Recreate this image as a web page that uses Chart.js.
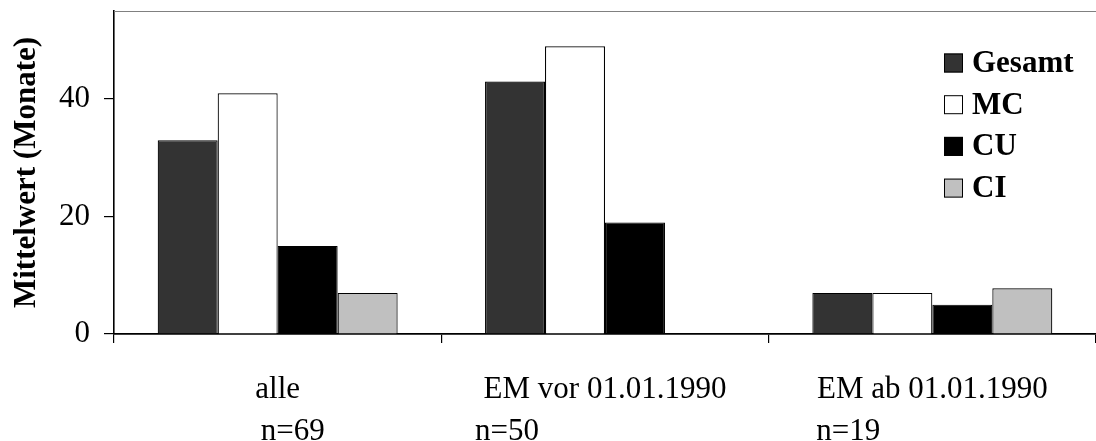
<!DOCTYPE html>
<html>
<head>
<meta charset="utf-8">
<script src="https://cdn.jsdelivr.net/npm/chart.js@4/dist/chart.umd.min.js"></script>
<style>
  html, body { margin: 0; padding: 0; background: #fff; overflow: hidden; }
  #wrap { width: 1096px; height: 441px; position: relative; }
</style>
</head>
<body>
<div id="wrap"><canvas id="c" width="1096" height="441"></canvas></div>
<script>
const categories = ["alle", "EM vor 01.01.1990", "EM ab 01.01.1990"];
const sampleSizes = ["n=69", "n=50", "n=19"];
const seriesNames = ["Gesamt", "MC", "CU", "CI"];
const gesamt = [33, 43, 7];
const mc = [41, 49, 7];
const cu = [15, 19, 5];
const ci = [7, 0, 7.8];
const yTicks = [0, 20, 40];
const yMax = 55;

const colors = ["#333333", "#ffffff", "#000000", "#c0c0c0"];
const seriesValues = [gesamt, mc, cu, ci];
const nOffsets = [15, -98, -84];
const serif = "'Liberation Serif', 'Times New Roman', serif";

const extras = {
  id: 'extras',
  afterDraw(chart) {
    const ctx = chart.ctx;
    const ca = chart.chartArea;
    const xs = chart.scales.x;
    ctx.save();
    // top frame line
    ctx.strokeStyle = '#808080';
    ctx.lineWidth = 1;
    ctx.beginPath();
    ctx.moveTo(ca.left, ca.top + 0.5);
    ctx.lineTo(ca.right, ca.top + 0.5);
    ctx.stroke();
    // sample size labels
    ctx.fillStyle = '#000';
    ctx.font = "31px " + serif;
    ctx.textAlign = 'center';
    ctx.textBaseline = 'middle';
    sampleSizes.forEach((s, i) => {
      ctx.fillText(s, xs.getPixelForValue(i) + nOffsets[i], xs.top + 98);
    });
    // legend
    ctx.font = "bold 31px " + serif;
    ctx.textAlign = 'left';
    chart.data.datasets.forEach((ds, i) => {
      const cy = ca.top + 52 + i * 41.7;
      const bx = ca.left + 830;
      ctx.fillStyle = ds.backgroundColor;
      ctx.fillRect(bx, cy - 9.5, 19, 19);
      ctx.strokeStyle = '#000';
      ctx.lineWidth = 1;
      ctx.strokeRect(bx + 0.5, cy - 9, 18, 18);
      ctx.fillStyle = '#000';
      ctx.fillText(ds.label, bx + 28, cy + 1);
    });
    ctx.restore();
  }
};

new Chart(document.getElementById('c'), {
  type: 'bar',
  data: {
    labels: categories,
    datasets: seriesNames.map((name, i) => ({
      label: name,
      data: seriesValues[i],
      backgroundColor: colors[i],
      borderColor: '#000',
      borderWidth: 1.2,
      borderSkipped: 'bottom'
    }))
  },
  options: {
    responsive: false,
    animation: false,
    layout: { padding: { top: 11, right: 0, left: 0, bottom: 0 } },
    plugins: { legend: { display: false }, tooltip: { enabled: false } },
    datasets: { bar: { categoryPercentage: 0.733, barPercentage: 1.0 } },
    scales: {
      x: {
        offset: true,
        afterFit(scale) { scale.height = 107; scale.paddingLeft = 0; scale.paddingRight = 0; },
        grid: { offset: true, drawOnChartArea: false, drawTicks: true, tickLength: 9, color: '#000', lineWidth: 1.2 },
        border: { display: true, color: '#000', width: 1.8 },
        ticks: { color: '#000', padding: 28, maxRotation: 0, autoSkip: false, font: { family: serif, size: 31 } }
      },
      y: {
        min: 0,
        max: yMax,
        afterFit(scale) { scale.width = 114; scale.paddingTop = 0; scale.paddingBottom = 0; },
        afterBuildTicks(scale) { scale.ticks = yTicks.map(v => ({ value: v })); },
        grid: { drawOnChartArea: false, drawTicks: true, tickLength: 10, color: '#000', lineWidth: 1.2 },
        border: { display: true, color: '#000', width: 1.6 },
        ticks: { color: '#000', padding: 14, font: { family: serif, size: 31 } },
        title: { display: true, text: 'Mittelwert (Monate)', color: '#000', padding: { top: 8, bottom: 0 }, font: { family: serif, size: 31, weight: 'bold' } }
      }
    }
  },
  plugins: [extras]
});
</script>
</body>
</html>
